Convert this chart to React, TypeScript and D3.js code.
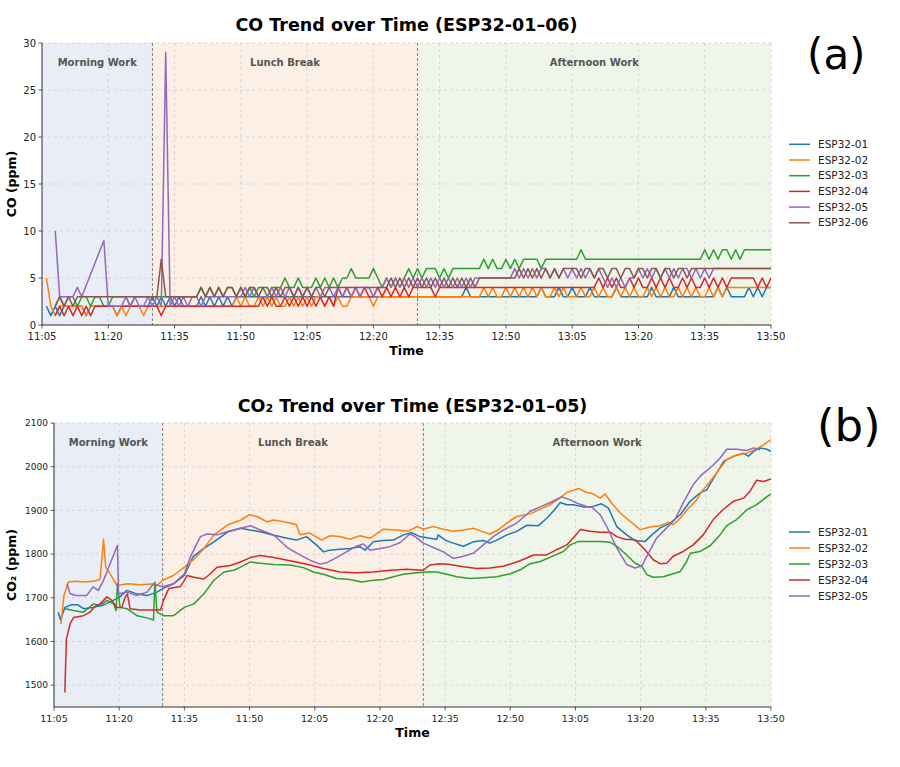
import React from "react";
import * as d3 from "d3";

// ---------- shared labels ----------
const xTickLabels = ["11:05", "11:20", "11:35", "11:50", "12:05", "12:20", "12:35", "12:50", "13:05", "13:20", "13:35", "13:50"];
const periodNames = ["Morning Work", "Lunch Break", "Afternoon Work"];
const periodStarts = ["11:05", "11:30", "12:30"];
const periodEnds = ["11:30", "12:30", "13:50"];
const periodFills = ["#e9eef6", "#fcefe6", "#eff5e9"];
const sensorNames = ["ESP32-01", "ESP32-02", "ESP32-03", "ESP32-04", "ESP32-05", "ESP32-06"];
const sensorColors = ["#1f77b4", "#ff7f0e", "#2ca02c", "#d62728", "#9467bd", "#8c564b"];

// ---------- CO (ppm), one reading per minute from 11:05 ----------
const coYTicks = [0, 5, 10, 15, 20, 25, 30];
const co01 = [
  null, 2, 1, 2, 1, 2, 2, 2, 2, 2,
  1, 2, 2, 2, 2, 2, 2, 1, 2, 2,
  2, 2, 2, 2, 2, 3, 2, 3, 2, 3,
  2, 3, 2, 2, 2, 2, 3, 2, 3, 2,
  3, 2, 3, 2, 3, 3, 3, 3, 3, 3,
  3, 3, 3, 3, 3, 3, 3, 3, 3, 3,
  3, 3, 3, 3, 3, 3, 3, 3, 3, 3,
  3, 3, 3, 3, 3, 3, 3, 3, 3, 3,
  3, 3, 3, 3, 3, 3, 3, 3, 3, 3,
  3, 3, 3, 3, 3, 3, 4, 3, 3, 3,
  3, 3, 3, 3, 3, 3, 3, 3, 3, 3,
  3, 3, 3, 4, 3, 3, 3, 4, 3, 3,
  4, 3, 3, 3, 4, 3, 3, 3, 3, 3,
  4, 3, 3, 3, 3, 3, 3, 3, 4, 3,
  3, 3, 3, 4, 3, 3, 3, 3, 3, 3,
  3, 3, 3, 4, 3, 4, 3, 3, 3, 3,
  4, 3, 4, 3, 4, 4,
];
const co02 = [
  null, 5, 2, 1, 2, 2, 2, 2, 2, 2,
  1, 2, 2, 2, 2, 2, 2, 1, 2, 1,
  2, 2, 2, 1, 2, 2, 2, 2, 2, 2,
  2, 2, 2, 2, 2, 2, 2, 2, 2, 2,
  2, 2, 2, 2, 3, 2, 3, 2, 2, 3,
  2, 3, 2, 3, 2, 2, 3, 2, 3, 2,
  3, 2, 3, 3, 2, 3, 2, 3, 2, 2,
  3, 3, 3, 3, 3, 2, 3, 3, 3, 3,
  3, 3, 3, 3, 3, 3, 3, 3, 3, 3,
  3, 3, 3, 3, 3, 3, 3, 3, 3, 3,
  4, 3, 4, 3, 3, 4, 3, 4, 3, 4,
  3, 4, 3, 4, 3, 3, 4, 3, 4, 3,
  3, 3, 4, 3, 3, 4, 3, 4, 3, 3,
  4, 3, 4, 3, 4, 3, 3, 4, 3, 4,
  3, 4, 3, 3, 4, 3, 4, 3, 4, 3,
  3, 4, 3, 4, 3, 4, 4, 4, 4, 4,
  4, 4, 4, 4, 4, 4,
];
const co03 = [
  null, null, null, 2, 3, 2, 3, 3, 2, 3,
  3, 2, 3, 3, 2, 2, 3, 3, 3, 3,
  2, 3, 3, 3, 3, 3, 3, 3, 3, 3,
  3, 3, 3, 3, 3, 3, 4, 3, 4, 3,
  4, 3, 4, 4, 3, 4, 3, 4, 3, 4,
  4, 3, 4, 4, 4, 5, 4, 4, 5, 4,
  4, 4, 5, 4, 5, 4, 5, 4, 5, 5,
  6, 5, 5, 5, 5, 6, 5, 4, 5, 4,
  5, 4, 5, 6, 5, 6, 5, 6, 6, 6,
  5, 6, 5, 6, 6, 6, 6, 6, 6, 6,
  7, 6, 7, 6, 6, 7, 6, 7, 6, 7,
  7, 7, 7, 6, 7, 7, 7, 7, 7, 7,
  7, 7, 8, 7, 7, 7, 7, 7, 7, 7,
  7, 7, 7, 7, 7, 7, 7, 7, 7, 7,
  7, 7, 7, 7, 7, 7, 7, 7, 7, 7,
  8, 7, 8, 7, 8, 8, 7, 8, 7, 8,
  8, 8, 8, 8, 8, 8,
];
const co04 = [
  null, null, null, 1, 2, 1, 2, 1, 2, 1,
  2, 1, 2, 2, 2, 2, 2, 2, 2, 2,
  2, 2, 2, 2, 2, 2, 2, 1, 2, 2,
  2, 2, 2, 2, 2, 2, 2, 2, 2, 2,
  2, 2, 2, 2, 2, 2, 2, 2, 2, 2,
  3, 2, 3, 2, 2, 3, 2, 3, 2, 3,
  2, 3, 2, 3, 2, 3, 2, 4, 3, 4,
  3, 4, 3, 4, 3, 3, 4, 3, 4, 3,
  4, 3, 4, 3, 4, 4, 4, 4, 4, 3,
  4, 4, 4, 4, 4, 4, 4, 4, 4, 4,
  4, 4, 4, 4, 4, 4, 4, 4, 4, 4,
  4, 4, 4, 4, 4, 4, 4, 4, 4, 4,
  4, 4, 4, 4, 4, 4, 5, 4, 5, 4,
  5, 4, 4, 5, 4, 5, 4, 4, 5, 4,
  5, 4, 5, 4, 4, 5, 4, 5, 4, 4,
  5, 4, 5, 4, 5, 4, 5, 5, 5, 5,
  5, 5, 4, 5, 4, 5,
];
const co05 = [
  null, null, null, 10, 3, 3, 3, 3, 4, 3,
  null, null, null, null, 9, 2, 2, 2, 2, 3,
  2, 3, 2, 2, 3, 2, 3, 2, 29, 2,
  3, 2, 3, 2, 3, 3, 2, 3, 3, 3,
  3, 3, 3, 3, 3, 3, 4, 3, 4, 3,
  3, 3, 4, 3, 4, 3, 4, 3, 4, 3,
  4, 3, 4, 3, 4, 4, 3, 4, 3, 4,
  3, 4, 3, 4, 4, 3, 4, 4, 5, 4,
  5, 4, 5, 4, 5, 4, 5, 4, 5, 4,
  5, 4, 5, 4, 5, 4, 5, 4, 5, 5,
  5, 5, 5, 5, 5, 5, 5, 6, 5, 6,
  5, 6, 5, 6, 6, 5, 6, 5, 6, 5,
  6, 5, 6, 5, 6, 5, 6, 5, 4, 5,
  4, 5, 4, 5, 5, 6, 5, 6, 5, 6,
  5, 6, 5, 6, 5, 6, 6, 5, 6, 5,
  6, 5, 6, 6, 6, 6, 6, 6, 6, 6,
  6, 6, 6, 6, 6, 6,
];
const co06 = [
  null, null, null, 2, 3, 2, 3, 2, 3, 3,
  3, 3, 3, 3, 3, 3, 3, 3, 3, 3,
  3, 3, 3, 3, 3, 3, 3, 7, 3, 3,
  3, 3, 3, 3, 3, 3, 4, 3, 4, 3,
  4, 3, 4, 4, 3, 4, 3, 4, 4, 3,
  4, 4, 3, 4, 3, 4, 4, 3, 4, 3,
  4, 3, 4, 4, 3, 4, 4, 4, 4, 4,
  4, 4, 4, 4, 4, 4, 4, 4, 4, 5,
  4, 5, 4, 5, 4, 5, 4, 5, 4, 5,
  4, 5, 4, 5, 4, 5, 4, 5, 4, 5,
  5, 5, 5, 5, 5, 5, 5, 5, 6, 5,
  6, 5, 6, 5, 6, 5, 6, 5, 6, 6,
  6, 6, 5, 6, 6, 5, 6, 6, 5, 6,
  6, 5, 6, 6, 5, 6, 6, 5, 6, 6,
  5, 6, 6, 5, 6, 6, 5, 6, 6, 6,
  6, 6, 6, 6, 6, 6, 6, 6, 6, 6,
  6, 6, 6, 6, 6, 6,
];

// ---------- CO2 (ppm), [minutes after 11:05, ppm] ----------
const co2YTicks = [1500, 1600, 1700, 1800, 1900, 2000, 2100];
const co2_01 = [
  [1, 1667], [1.5, 1649], [2.5, 1678], [4, 1684], [5.5, 1684], [6.8, 1675], [9, 1678], [11, 1682], [12, 1686],
  [15, 1701], [16.8, 1717], [19, 1709], [21.4, 1705], [23.7, 1713], [25, 1721], [27.5, 1732], [30, 1751],
  [32, 1794], [34.5, 1813], [36.8, 1828], [40, 1851], [43, 1859], [45, 1855], [47.5, 1851], [50.6, 1843],
  [53.7, 1836], [55.8, 1832], [58.1, 1840], [60.4, 1821], [62, 1805], [63.5, 1809], [65.8, 1811], [68.1, 1813],
  [70.4, 1817], [71.6, 1809], [73.5, 1828], [75.8, 1831], [78.1, 1832], [80.4, 1844], [82.3, 1849], [84.2, 1840],
  [86.5, 1836], [88.1, 1834], [88.4, 1844], [90, 1832], [91.9, 1825], [94.2, 1818], [96.5, 1828], [98.8, 1831],
  [100.3, 1825], [101.9, 1832], [104.2, 1844], [106.5, 1852], [108.8, 1866], [111.5, 1865], [113.4, 1882],
  [114.9, 1898], [116.5, 1918], [118, 1913], [119.5, 1913], [121.8, 1908], [123.7, 1908], [126, 1915],
  [127.6, 1905], [129.5, 1863], [131.8, 1844], [133.7, 1831], [136, 1829], [137.6, 1844], [139.5, 1860],
  [141.8, 1871], [144.1, 1890], [146.4, 1921], [148.7, 1940], [150.2, 1947], [151.8, 1974], [154.1, 2012],
  [156.4, 2024], [158.7, 2031], [159.8, 2024], [161, 2035], [162.5, 2043], [164, 2040], [165, 2035],
];
const co2_02 = [
  [1.6, 1640], [2.3, 1705], [3.3, 1736], [5, 1738], [7, 1736], [9, 1738], [10.6, 1742], [11.4, 1834], [11.9, 1770],
  [12.9, 1755], [14.5, 1728], [17, 1732], [20, 1730], [23, 1732], [23.3, 1725], [25, 1740], [27.5, 1751],
  [30, 1770], [32, 1786], [34.5, 1813], [36.8, 1844], [40, 1867], [43, 1878], [45, 1890], [46.7, 1886],
  [49, 1874], [50.6, 1878], [52.9, 1874], [54.3, 1871], [55.8, 1867], [56.6, 1844], [58.9, 1848], [61.6, 1832],
  [63.5, 1842], [65.8, 1840], [68.1, 1834], [70.4, 1842], [72.7, 1836], [75.8, 1857], [78.8, 1855], [81.5, 1852],
  [83.5, 1863], [85, 1857], [87.3, 1863], [89.6, 1857], [91.9, 1852], [94.2, 1855], [96.5, 1859], [98.4, 1852],
  [100.3, 1846], [102.2, 1855], [104.2, 1871], [106.5, 1886], [109.6, 1892], [111.9, 1903], [114.2, 1913],
  [116.1, 1926], [118, 1941], [120.7, 1950], [122.6, 1941], [124.1, 1938], [125.7, 1928], [126.8, 1938],
  [128.3, 1917], [130.3, 1894], [132.6, 1875], [134.9, 1856], [137.2, 1862], [139.5, 1865], [141.4, 1873],
  [142.5, 1867], [144.1, 1882], [146, 1905], [147.9, 1924], [149.1, 1944], [151, 1966], [153.3, 1997],
  [154.8, 2016], [157.1, 2027], [159.4, 2031], [161.3, 2039], [163.3, 2050], [165, 2062],
];
const co2_03 = [
  [2.5, 1675], [4.5, 1671], [6.8, 1667], [9.1, 1686], [10.6, 1682], [12.2, 1694], [13.7, 1686], [14.3, 1671],
  [14.6, 1732], [15.2, 1678], [16.8, 1675], [19.1, 1659], [21.4, 1654], [22.9, 1649], [23.2, 1736], [23.7, 1667],
  [25.2, 1659], [27.5, 1659], [30, 1678], [32.2, 1686], [34.5, 1709], [36.8, 1740], [39.1, 1759], [41.4, 1763],
  [42.9, 1770], [45.2, 1782], [47.5, 1779], [50.6, 1776], [54.3, 1775], [57.4, 1769], [59.7, 1759], [62, 1754],
  [65, 1744], [68.1, 1742], [70.8, 1736], [73.5, 1740], [75.8, 1742], [78.1, 1748], [80.4, 1754], [83.5, 1757],
  [85.8, 1759], [88.1, 1759], [90.4, 1754], [92.7, 1748], [95.8, 1744], [98.8, 1746], [101.9, 1748], [105, 1755],
  [107.3, 1764], [109.6, 1778], [111.9, 1783], [114.9, 1796], [117.2, 1806], [118.8, 1821], [120.7, 1829],
  [122.6, 1829], [125.7, 1829], [128, 1827], [129.5, 1818], [131.8, 1798], [133.7, 1779], [135.3, 1772],
  [136.4, 1753], [137.9, 1747], [140.2, 1748], [142.5, 1755], [144.1, 1760], [145.6, 1783], [146.4, 1802],
  [148.7, 1806], [151, 1819], [153.3, 1844], [154.8, 1865], [157.1, 1879], [159.4, 1901], [161.7, 1913],
  [164, 1931], [165, 1938],
];
const co2_04 = [
  [2.5, 1483], [2.85, 1606], [3.7, 1640], [4.5, 1655], [6.8, 1659], [8.3, 1667], [9.5, 1681], [10.6, 1686],
  [12.2, 1702], [13.3, 1694], [14.5, 1678], [15.6, 1678], [16.4, 1702], [16.9, 1709], [17.5, 1675], [19.8, 1672],
  [24.5, 1672], [25.2, 1694], [26.4, 1721], [29.1, 1726], [30, 1740], [30.6, 1751], [32.2, 1747], [34.5, 1743],
  [36, 1755], [37.5, 1770], [40.6, 1774], [42.9, 1782], [45.2, 1792], [47.5, 1797], [50.6, 1792], [53.7, 1786],
  [56.6, 1780], [58.9, 1775], [62, 1767], [65.8, 1759], [69.6, 1757], [73.5, 1759], [77.3, 1763], [81.1, 1765],
  [85, 1763], [86.5, 1775], [88.8, 1778], [91.1, 1776], [94.2, 1771], [97.3, 1767], [100.3, 1768], [103.4, 1772],
  [106.5, 1782], [108.8, 1791], [110.3, 1798], [113.4, 1798], [115.7, 1810], [118, 1821], [119.5, 1837],
  [121.1, 1856], [123.4, 1852], [125.7, 1850], [128, 1850], [129.5, 1840], [131.4, 1834], [133.7, 1833],
  [136, 1810], [137.9, 1787], [139.5, 1778], [141, 1779], [142.5, 1795], [144.8, 1806], [147.1, 1821],
  [149.4, 1844], [151.7, 1879], [154, 1902], [156.4, 1921], [158.7, 1928], [160.2, 1944], [161.7, 1969],
  [163.3, 1966], [165, 1972],
];
const co2_05 = [
  [3, 1732], [3.7, 1709], [5.2, 1705], [7.5, 1705], [9, 1725], [10.2, 1717], [11.4, 1740], [14.6, 1820],
  [14.85, 1709], [16.8, 1713], [19, 1705], [21.4, 1713], [22.9, 1732], [25, 1725], [27.5, 1732], [30, 1755],
  [31.4, 1794], [33.7, 1840], [35.2, 1846], [37.5, 1844], [39.8, 1851], [42.9, 1859], [45.2, 1865], [47.5, 1855],
  [50.6, 1843], [53.7, 1815], [56.6, 1798], [58.9, 1786], [61.2, 1777], [62.7, 1780], [65, 1792], [67.3, 1805],
  [69.6, 1818], [71.2, 1823], [72.7, 1809], [75, 1813], [77.3, 1817], [79.6, 1826], [81.9, 1846], [83.1, 1840],
  [85, 1825], [87.3, 1815], [89.6, 1805], [91.9, 1790], [94.2, 1795], [96.5, 1802], [98.8, 1821], [101.1, 1840],
  [103.4, 1855], [106.5, 1871], [109.6, 1898], [111.9, 1908], [114.2, 1918], [116.8, 1931], [118.8, 1924],
  [120.7, 1915], [122.6, 1909], [123.7, 1908], [125.7, 1890], [127.2, 1863], [129.5, 1814], [131.8, 1776],
  [133.7, 1768], [135.3, 1773], [136.8, 1802], [138.7, 1837], [141, 1860], [142.9, 1879], [144.8, 1917],
  [147.1, 1959], [149.1, 1982], [151.4, 2001], [153.3, 2020], [154.8, 2040], [157.1, 2040], [159.4, 2037],
  [161, 2043], [162.5, 2039],
];

// ---------- helpers ----------
type Pt = [number, number];
const parseHM = (s: string) => {
  const [h, m] = s.split(":").map(Number);
  return new Date(2024, 0, 1, h, m);
};
const BASE = parseHM(xTickLabels[0]);
const toDate = (min: number) => new Date(BASE.getTime() + min * 60000);
const perMinute = (vals: (number | null)[]): Pt[] =>
  vals.map((v, i) => (v == null ? null : ([i, v] as Pt))).filter((d): d is Pt => d !== null);

const coSeries = [co01, co02, co03, co04, co05, co06].map((vals, i) => ({
  name: sensorNames[i],
  color: sensorColors[i],
  points: perMinute(vals),
}));
const co2Series = [co2_01, co2_02, co2_03, co2_04, co2_05].map((pts, i) => ({
  name: sensorNames[i],
  color: sensorColors[i],
  points: pts as Pt[],
}));

const FONT = "'DejaVu Sans', 'Liberation Sans', sans-serif";

interface PanelProps {
  id: string;
  x0: number; x1: number; y0: number; y1: number;
  yDomain: [number, number];
  yTicks: number[];
  yTickSize: number;
  xTickSize: number;
  series: { name: string; color: string; points: Pt[] }[];
  title: string; titleY: number;
  yLabel: string;
  legendX: number; legendY: number; legendStep: number;
  tag: string; tagX: number; tagY: number; tagSize: number;
  periodLabelY: number;
}

function Panel(p: PanelProps) {
  const x = d3.scaleTime()
    .domain([parseHM(xTickLabels[0]), parseHM(xTickLabels[xTickLabels.length - 1])])
    .range([p.x0, p.x1]);
  const y = d3.scaleLinear().domain(p.yDomain).range([p.y1, p.y0]);
  const line = d3.line<Pt>().x((d) => x(toDate(d[0]))).y((d) => y(d[1]));
  const xTicks = xTickLabels.map(parseHM);
  const cx = (p.x0 + p.x1) / 2;
  const cy = (p.y0 + p.y1) / 2;
  return (
    <g>
      <defs>
        <clipPath id={p.id}>
          <rect x={p.x0} y={p.y0} width={p.x1 - p.x0} height={p.y1 - p.y0} />
        </clipPath>
      </defs>
      {periodNames.map((n, i) => (
        <rect key={n} x={x(parseHM(periodStarts[i]))} y={p.y0}
          width={x(parseHM(periodEnds[i])) - x(parseHM(periodStarts[i]))}
          height={p.y1 - p.y0} fill={periodFills[i]} />
      ))}
      {/* grid */}
      {p.yTicks.map((t) => (
        <line key={"gy" + t} x1={p.x0} x2={p.x1} y1={y(t)} y2={y(t)} stroke="#cfcfcf" strokeWidth={0.8} strokeDasharray="3,3" />
      ))}
      {xTicks.map((t, i) => (
        <line key={"gx" + i} x1={x(t)} x2={x(t)} y1={p.y0} y2={p.y1} stroke="#cfcfcf" strokeWidth={0.8} strokeDasharray="3,3" />
      ))}
      {/* period separators */}
      {periodStarts.slice(1).map((s) => (
        <line key={"sep" + s} x1={x(parseHM(s))} x2={x(parseHM(s))} y1={p.y0} y2={p.y1} stroke="#7f7f7f" strokeWidth={1} strokeDasharray="3,2" />
      ))}
      {periodNames.map((n, i) => (
        <text key={"pl" + n} x={(x(parseHM(periodStarts[i])) + x(parseHM(periodEnds[i]))) / 2} y={p.periodLabelY}
          textAnchor="middle" fontSize={10} fontWeight="bold" fill="#555" fontFamily={FONT}>{n}</text>
      ))}
      {/* series */}
      <g clipPath={`url(#${p.id})`}>
        {p.series.map((s) => (
          <path key={s.name} d={line(s.points) || ""} fill="none" stroke={s.color} strokeWidth={1.5} strokeLinejoin="round" />
        ))}
      </g>
      {/* axes */}
      <line x1={p.x0} x2={p.x0} y1={p.y0} y2={p.y1} stroke="#333" strokeWidth={1} />
      <line x1={p.x0} x2={p.x1} y1={p.y1} y2={p.y1} stroke="#333" strokeWidth={1} />
      {p.yTicks.map((t) => (
        <g key={"yt" + t}>
          <line x1={p.x0 - 3.5} x2={p.x0} y1={y(t)} y2={y(t)} stroke="#333" strokeWidth={0.8} />
          <text x={p.x0 - 6} y={y(t)} dy="0.35em" textAnchor="end" fontSize={p.yTickSize} fill="#222" fontFamily={FONT}>{t}</text>
        </g>
      ))}
      {xTicks.map((t, i) => (
        <g key={"xt" + i}>
          <line x1={x(t)} x2={x(t)} y1={p.y1} y2={p.y1 + 3.5} stroke="#333" strokeWidth={0.8} />
          <text x={x(t)} y={p.y1 + 14.5} textAnchor="middle" fontSize={p.xTickSize} fill="#222" fontFamily={FONT}>{xTickLabels[i]}</text>
        </g>
      ))}
      <text x={cx} y={p.y1 + 30} textAnchor="middle" fontSize={12.5} fontWeight="bold" fill="#000" fontFamily={FONT}>Time</text>
      <text transform={`translate(16,${cy}) rotate(-90)`} textAnchor="middle" fontSize={12.5} fontWeight="bold" fill="#000" fontFamily={FONT}>{p.yLabel}</text>
      <text x={cx} y={p.titleY} textAnchor="middle" fontSize={17.5} fontWeight="bold" fill="#000" fontFamily={FONT}>{p.title}</text>
      {/* legend */}
      {p.series.map((s, i) => (
        <g key={"lg" + s.name}>
          <line x1={p.legendX} x2={p.legendX + 21} y1={p.legendY + i * p.legendStep} y2={p.legendY + i * p.legendStep} stroke={s.color} strokeWidth={1.5} />
          <text x={p.legendX + 29} y={p.legendY + i * p.legendStep} dy="0.35em" fontSize={10.5} fill="#222" fontFamily={FONT}>{s.name}</text>
        </g>
      ))}
      <text x={p.tagX} y={p.tagY} fontSize={p.tagSize} fill="#000" fontFamily={FONT}>{p.tag}</text>
    </g>
  );
}

export default function App() {
  return (
    <div style={{ position: "absolute", left: 0, top: 0 }}>
      <svg width={900} height={767} style={{ display: "block", background: "#fff" }}>
        <Panel id="clip-co" x0={42} x1={771} y0={43} y1={325} yDomain={[0, 30]} yTicks={coYTicks}
          yTickSize={10} xTickSize={10}
          series={coSeries} title="CO Trend over Time (ESP32-01–06)" titleY={31}
          yLabel="CO (ppm)" legendX={789} legendY={144.3} legendStep={15.7}
          tag="(a)" tagX={807} tagY={69} tagSize={42} periodLabelY={65.5} />
        <Panel id="clip-co2" x0={54} x1={771} y0={423} y1={707} yDomain={[1450, 2100]} yTicks={co2YTicks}
          yTickSize={9} xTickSize={9.5}
          series={co2Series} title="CO₂ Trend over Time (ESP32-01–05)" titleY={412}
          yLabel="CO₂ (ppm)" legendX={789} legendY={532} legendStep={16}
          tag="(b)" tagX={817} tagY={441} tagSize={45} periodLabelY={445.5} />
      </svg>
    </div>
  );
}
